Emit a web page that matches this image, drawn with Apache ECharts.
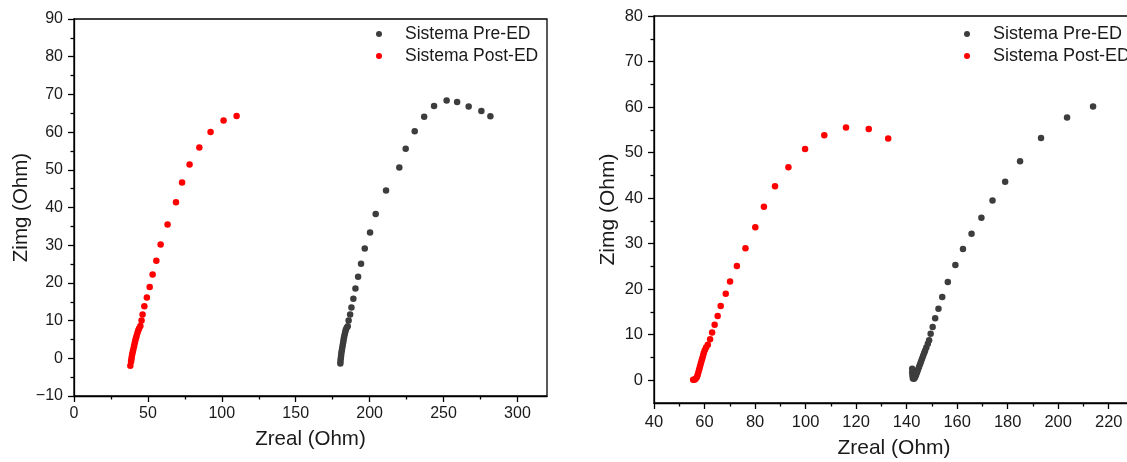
<!DOCTYPE html>
<html><head><meta charset="utf-8">
<script src="https://cdn.jsdelivr.net/npm/echarts@6/dist/echarts.min.js"></script>
<style>html,body{margin:0;padding:0;background:#fff;}#c{width:1127px;height:462px;}</style>
</head><body><div id="c"></div>
<script>
// ---- data ----
const seriesNames = ['Sistema Pre-ED', 'Sistema Post-ED'];
const leftPre = [[180.2,-1.4],[180.3,-0.7],[180.5,0.0],[180.7,0.7],[180.9,1.4],[181.2,2.1],[181.5,2.8],[181.8,3.5],[182.1,4.2],[182.4,4.9],[182.7,5.6],[183.1,6.3],[183.5,7.0],[183.9,7.6],[184.5,8.1],[185.2,8.5],[185.8,10.0],[186.8,11.6],[187.7,13.5],[189.0,15.8],[190.4,18.5],[192.2,21.6],[194.2,25.1],[196.7,29.1],[200.3,33.4],[204.1,38.3],[211.1,44.5],[220.1,50.6],[224.4,55.6],[230.5,60.2],[236.9,64.1],[243.6,66.9],[252.1,68.4],[259.2,68.0],[267.0,66.8],[275.6,65.6],[281.7,64.2]];
const leftPost = [[38.1,-2.0],[38.6,-0.9],[38.8,-0.3],[39.1,0.4],[39.4,1.1],[39.8,1.8],[40.2,2.5],[40.6,3.2],[41.0,3.9],[41.4,4.6],[41.9,5.3],[42.4,6.0],[42.9,6.7],[43.4,7.3],[44.0,7.9],[44.9,8.6],[45.7,10.0],[46.4,11.6],[47.6,13.8],[49.3,16.1],[51.2,18.9],[53.2,22.2],[55.7,25.9],[58.6,30.2],[63.3,35.5],[69.0,41.4],[73.1,46.6],[78.2,51.4],[84.8,55.9],[92.4,60.0],[101.2,63.1],[110.0,64.3]];
const rightPre = [[142.2,2.5],[142.2,1.7],[142.3,1.0],[142.5,0.4],[142.9,0.3],[143.3,0.6],[143.7,1.1],[144.1,1.7],[144.5,2.3],[144.9,2.9],[145.3,3.5],[145.7,4.1],[146.1,4.7],[146.5,5.3],[146.9,5.9],[147.3,6.5],[147.8,7.2],[148.4,8.0],[148.9,8.8],[149.5,10.2],[150.3,11.7],[151.3,13.6],[152.6,15.7],[154.1,18.3],[156.3,21.6],[159.3,25.3],[162.3,28.8],[165.7,32.2],[169.6,35.7],[174.0,39.5],[179.0,43.6],[184.9,48.1],[193.2,53.2],[203.5,57.7],[213.8,60.1]];
const rightPost = [[55.5,0.1],[56.0,0.1],[56.5,0.3],[57.0,0.7],[57.3,1.2],[57.6,1.8],[57.9,2.4],[58.2,3.0],[58.5,3.6],[58.8,4.2],[59.1,4.8],[59.4,5.4],[59.7,6.0],[60.1,6.6],[60.6,7.2],[61.3,7.8],[62.2,9.0],[63.0,10.5],[64.0,12.2],[65.2,14.1],[66.4,16.3],[68.4,19.0],[70.1,21.7],[72.8,25.1],[76.2,29.0],[80.1,33.6],[83.5,38.1],[87.9,42.6],[93.2,46.8],[99.8,50.8],[107.4,53.8],[116.0,55.5],[125.0,55.2],[132.7,53.1]];
// tick values
const leftXTicks = [0,50,100,150,200,250,300];
const leftXMinor = [25,75,125,175,225,275];
const leftYTicks = [-10,0,10,20,30,40,50,60,70,80,90];
const leftYMinor = [-5,5,15,25,35,45,55,65,75,85];
const rightXTicks = [40,60,80,100,120,140,160,180,200,220];
const rightXMinor = [50,70,90,110,130,150,170,190,210,230];
const rightYTicks = [0,10,20,30,40,50,60,70,80];
const rightYMinor = [5,15,25,35,45,55,65,75];
const xTitle = 'Zreal (Ohm)';
const yTitle = 'Zimg (Ohm)';

const FONT = 'Arial, "Liberation Sans", sans-serif';
const TXT = '#1a1a1a';
const fmt = v => (v < 0 ? '\u2212' + Math.abs(v) : String(v));

function mainAxis(grid, min, max, ticks, isX, name, nameGap, margin, nameSize, labelSize) {
  return {
    type: 'value', gridIndex: grid, min: min, max: max,
    position: isX ? 'bottom' : 'left',
    name: name, nameLocation: 'middle', nameGap: nameGap,
    nameTextStyle: {fontFamily: FONT, fontSize: nameSize, color: TXT},
    axisLine: {show: true, onZero: false, lineStyle: {color: '#000', width: 1.3}},
    axisTick: {show: true, length: 6, customValues: ticks, lineStyle: {color: '#000', width: 1.3}},
    axisLabel: {show: true, customValues: ticks, formatter: fmt, fontFamily: FONT, fontSize: labelSize, color: TXT, margin: margin},
    splitLine: {show: false}
  };
}
function minorAxis(grid, min, max, ticks, isX) {
  return {
    type: 'value', gridIndex: grid, min: min, max: max,
    position: isX ? 'bottom' : 'left',
    axisLine: {show: false, onZero: false},
    axisTick: {show: true, length: 3.5, customValues: ticks, lineStyle: {color: '#000', width: 1.3}},
    axisLabel: {show: false},
    splitLine: {show: false}
  };
}

function legendAt(left, size) {
  return {
    left: left, top: 18, orient: 'vertical', icon: 'circle',
    itemWidth: 42, itemHeight: 6, itemGap: 0,
    data: seriesNames,
    textStyle: {fontFamily: FONT, fontSize: size, color: TXT, lineHeight: 22}
  };
}

const chart = echarts.init(document.getElementById('c'), null, {renderer: 'canvas'});
chart.setOption({
  animation: false,
  backgroundColor: '#fff',
  grid: [
    {left: 74, top: 19, width: 473, height: 377, outerBoundsMode: 'none', containLabel: false, show: true, borderColor: '#000', borderWidth: 1.3, backgroundColor: 'transparent'},
    {left: 654, top: 16, width: 480, height: 387, outerBoundsMode: 'none', containLabel: false, show: true, borderColor: '#000', borderWidth: 1.3, backgroundColor: 'transparent'}
  ],
  xAxis: [
    mainAxis(0, 0, 320, leftXTicks, true, xTitle, 33, 10, 20.5, 16),
    minorAxis(0, 0, 320, leftXMinor, true),
    mainAxis(1, 40, 230, rightXTicks, true, xTitle, 35, 11, 21, 16.5),
    minorAxis(1, 40, 230, rightXMinor, true)
  ],
  yAxis: [
    mainAxis(0, -10, 90, leftYTicks, false, yTitle, 42, 11, 20.5, 16),
    minorAxis(0, -10, 90, leftYMinor, false),
    mainAxis(1, -5, 80, rightYTicks, false, yTitle, 35, 11, 21, 16.5),
    minorAxis(1, -5, 80, rightYMinor, false)
  ],
  legend: [legendAt(371, 17.5), legendAt(959, 18)],
  series: [
    {name: seriesNames[0], type: 'scatter', xAxisIndex: 0, yAxisIndex: 0, data: leftPre, symbolSize: 6.5, itemStyle: {color: '#3d3d3d', opacity: 1}},
    {name: seriesNames[1], type: 'scatter', xAxisIndex: 0, yAxisIndex: 0, data: leftPost, symbolSize: 6.5, itemStyle: {color: '#ff0000', opacity: 1}},
    {name: seriesNames[0], type: 'scatter', xAxisIndex: 2, yAxisIndex: 2, data: rightPre, symbolSize: 6.5, itemStyle: {color: '#3d3d3d', opacity: 1}},
    {name: seriesNames[1], type: 'scatter', xAxisIndex: 2, yAxisIndex: 2, data: rightPost, symbolSize: 6.5, itemStyle: {color: '#ff0000', opacity: 1}}
  ]
});
</script></body></html>
